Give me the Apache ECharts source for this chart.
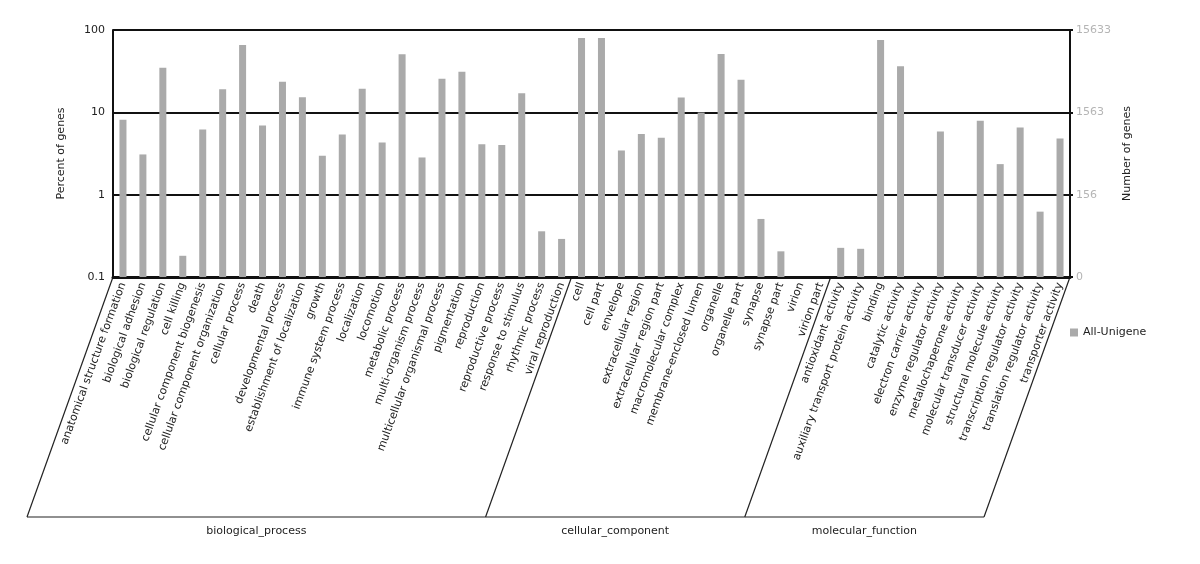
<!DOCTYPE html>
<html>
<head>
<meta charset="utf-8">
<title>GO classification</title>
<script src="https://cdn.jsdelivr.net/npm/echarts@6/dist/echarts.min.js"></script>
<style>
  html, body { margin: 0; padding: 0; background: #fff; }
  #chart { width: 1200px; height: 564px; }
</style>
</head>
<body>
<div id="chart"></div>
<script>
  // GO terms, grouped by ontology
  const groups = ['biological_process', 'cellular_component', 'molecular_function']
  const groupSizes = [23, 13, 12]
  const categories = [
    'anatomical structure formation', 'biological adhesion', 'biological regulation', 'cell killing',
    'cellular component biogenesis', 'cellular component organization', 'cellular process', 'death',
    'developmental process', 'establishment of localization', 'growth', 'immune system process',
    'localization', 'locomotion', 'metabolic process', 'multi-organism process',
    'multicellular organismal process', 'pigmentation', 'reproduction', 'reproductive process',
    'response to stimulus', 'rhythmic process', 'viral reproduction',
    'cell', 'cell part', 'envelope', 'extracellular region', 'extracellular region part',
    'macromolecular complex', 'membrane-enclosed lumen', 'organelle', 'organelle part',
    'synapse', 'synapse part', 'virion', 'virion part',
    'antioxidant activity', 'auxiliary transport protein activity', 'binding', 'catalytic activity',
    'electron carrier activity', 'enzyme regulator activity', 'metallochaperone activity',
    'molecular transducer activity', 'structural molecule activity', 'transcription regulator activity',
    'translation regulator activity', 'transporter activity'
  ]
  // percent of genes (null = nothing drawn)
  const percentValues = [
    8.1, 3.08, 34.9, 0.181, 6.19, 19.1, 65.8, 6.92,
    23.6, 15.3, 2.97, 5.38, 19.4, 4.3, 50.7, 2.83,
    25.5, 31.2, 4.11, 4.0, 17.1, 0.359, 0.29,
    80, 80, 3.44, 5.44, 4.91, 15.1, 9.95, 51.2, 24.8,
    0.507, 0.205, null, null,
    0.226, 0.22, 75.6, 36.3, null, 5.85, null,
    7.89, 2.35, 6.54, 0.622, 4.82
  ]
  const leftTickLabels = ['0.1', '1', '10', '100']
  const rightTickLabels = ['0', '156', '1563', '15633']

  const gridLeft = 113
  const gridTop = 30
  const gridWidth = 957
  const gridHeight = 247
  const slantX = 86
  const baseY = 517
  const axisMin = 0.1
  const barColor = '#aaaaaa'

  const chart = echarts.init(document.getElementById('chart'))

  function tickIndex(v) {
    return Math.round(Math.log10(v) + 1)
  }

  // bars on a log axis have to start from the axis bottom, not from 1
  function renderBar(params, api) {
    const top = api.coord([api.value(0), api.value(1)])
    const base = api.coord([api.value(0), axisMin])
    const w = 7
    return {
      type: 'rect',
      shape: {x: top[0] - w / 2, y: top[1], width: w, height: base[1] - top[1]},
      style: {fill: barColor}
    }
  }

  // bracket lines under the category labels
  function buildGraphic() {
    const band = gridWidth / categories.length
    const bottom = gridTop + gridHeight
    const items = []
    let edges = [0]
    groupSizes.forEach(n => edges.push(edges[edges.length - 1] + n))
    edges.forEach(e => {
      const x = gridLeft + e * band
      items.push({
        type: 'line',
        shape: {x1: x, y1: bottom, x2: x - slantX, y2: baseY},
        style: {stroke: '#222', lineWidth: 1.2}
      })
    })
    items.push({
      type: 'line',
      shape: {x1: gridLeft - slantX, y1: baseY, x2: gridLeft + gridWidth - slantX, y2: baseY},
      style: {stroke: '#222', lineWidth: 1.2}
    })
    groups.forEach((g, i) => {
      const xa = gridLeft + edges[i] * band - slantX
      const xb = gridLeft + edges[i + 1] * band - slantX
      items.push({
        type: 'text',
        x: (xa + xb) / 2,
        y: baseY + 14,
        style: {
          text: g, fill: '#222', font: '11px "DejaVu Sans"',
          align: 'center', verticalAlign: 'middle'
        }
      })
    })
    return items
  }

  const barData = []
  percentValues.forEach((v, i) => {
    if (v != null) barData.push([i, v])
  })

  chart.setOption({
    animation: false,
    textStyle: {fontFamily: 'DejaVu Sans'},
    grid: {left: gridLeft, top: gridTop, width: gridWidth, height: gridHeight},
    legend: {
      data: ['All-Unigene'],
      left: 1065,
      top: 322,
      icon: 'rect',
      itemWidth: 8,
      itemHeight: 8,
      itemGap: 4,
      textStyle: {fontSize: 11, color: '#222'}
    },
    xAxis: {
      type: 'category',
      data: categories,
      axisLine: {lineStyle: {color: '#111', width: 3}},
      axisTick: {show: false},
      axisLabel: {
        interval: 0,
        rotate: 70,
        margin: 6,
        fontSize: 11,
        color: '#222'
      }
    },
    yAxis: [{
      type: 'log',
      logBase: 10,
      min: axisMin,
      max: 100,
      name: 'Percent of genes',
      nameLocation: 'middle',
      nameGap: 46,
      nameTextStyle: {fontSize: 11, color: '#222'},
      axisLine: {show: true, lineStyle: {color: '#111', width: 2}},
      axisTick: {show: false},
      axisLabel: {
        fontSize: 11,
        color: '#222',
        margin: 8,
        formatter: v => leftTickLabels[tickIndex(v)]
      },
      splitLine: {show: true, lineStyle: {color: '#111', width: 2}}
    }, {
      type: 'log',
      logBase: 10,
      min: axisMin,
      max: 100,
      position: 'right',
      name: 'Number of genes',
      nameLocation: 'middle',
      nameGap: 46,
      nameTextStyle: {fontSize: 11, color: '#222'},
      axisLine: {show: true, lineStyle: {color: '#111', width: 2}},
      axisTick: {show: true, length: 3, lineStyle: {color: '#111', width: 2}},
      axisLabel: {
        fontSize: 11,
        color: '#b5b5b5',
        margin: 6,
        formatter: v => rightTickLabels[tickIndex(v)]
      },
      splitLine: {show: false}
    }],
    series: [{
      name: 'All-Unigene',
      type: 'custom',
      renderItem: renderBar,
      itemStyle: {color: barColor},
      encode: {x: 0, y: 1},
      data: barData
    }],
    graphic: buildGraphic()
  })
</script>
</body>
</html>
